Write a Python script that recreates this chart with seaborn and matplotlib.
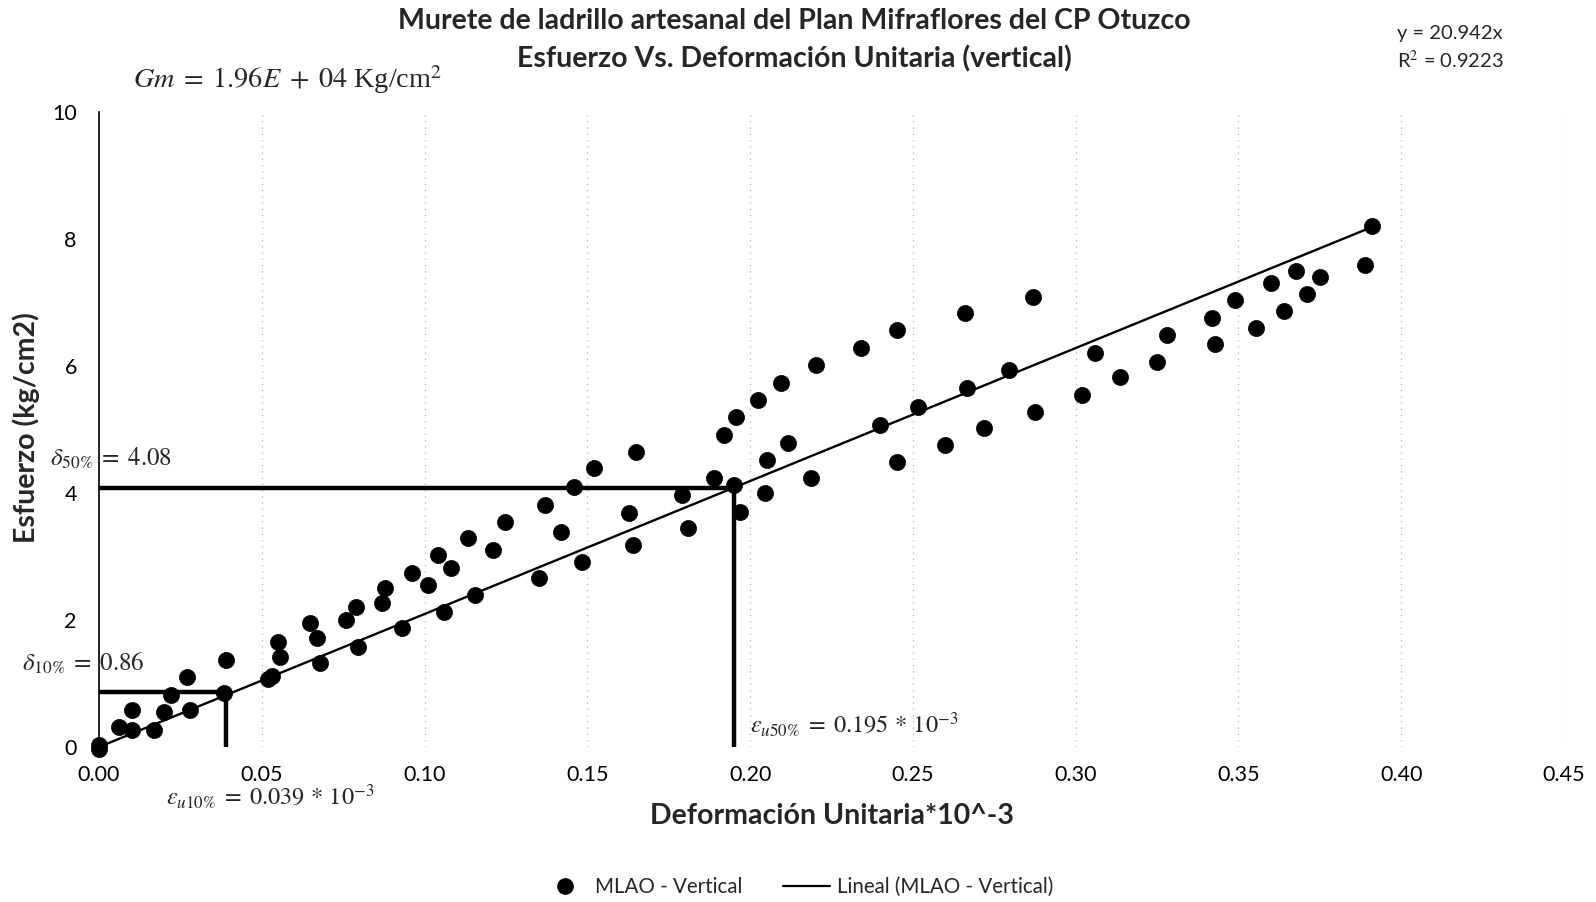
import numpy as np
import pandas as pd
import matplotlib
matplotlib.use("Agg")
import matplotlib.pyplot as plt
import seaborn as sns
from matplotlib.lines import Line2D

# ---- data ----
deformacion = [0.000, 0.000, 0.0062, 0.0102, 0.0102, 0.017, 0.020, 0.022, 0.027, 0.028,
               0.0385, 0.039, 0.052, 0.053, 0.055, 0.0555, 0.0647, 0.0669, 0.0678, 0.076,
               0.079, 0.0795, 0.087, 0.088, 0.093, 0.096, 0.101, 0.104, 0.106, 0.108,
               0.1134, 0.1156, 0.121, 0.1248, 0.135, 0.137, 0.1418, 0.1458, 0.1485, 0.152,
               0.1627, 0.164, 0.165, 0.179, 0.181, 0.189, 0.192, 0.195, 0.1957, 0.197,
               0.2025, 0.2046, 0.2052, 0.2095, 0.2117, 0.2188, 0.2203, 0.234, 0.2398, 0.245,
               0.245, 0.2515, 0.260, 0.266, 0.2666, 0.2718, 0.2795, 0.2875, 0.287, 0.302,
               0.306, 0.3137, 0.325, 0.328, 0.342, 0.3427, 0.349, 0.3553, 0.360, 0.364,
               0.3677, 0.371, 0.375, 0.389, 0.391]
esfuerzo = [-0.03, 0.03, 0.31, 0.27, 0.58, 0.27, 0.55, 0.82, 1.10, 0.58,
            0.85, 1.37, 1.07, 1.12, 1.65, 1.42, 1.95, 1.72, 1.32, 2.00,
            2.20, 1.57, 2.27, 2.50, 1.87, 2.74, 2.55, 3.02, 2.13, 2.82,
            3.29, 2.39, 3.10, 3.54, 2.66, 3.81, 3.39, 4.09, 2.91, 4.39,
            3.68, 3.18, 4.65, 3.97, 3.45, 4.24, 4.91, 4.13, 5.20, 3.70,
            5.46, 4.00, 4.52, 5.73, 4.79, 4.24, 6.02, 6.28, 5.07, 6.57,
            4.49, 5.35, 4.76, 6.83, 5.65, 5.02, 5.94, 5.28, 7.09, 5.54,
            6.20, 5.83, 6.06, 6.49, 6.76, 6.35, 7.04, 6.60, 7.31, 6.87,
            7.50, 7.13, 7.40, 7.59, 8.20]
pendiente = 20.942
r2 = 0.9223
x_ticks = [0.00, 0.05, 0.10, 0.15, 0.20, 0.25, 0.30, 0.35, 0.40, 0.45]
y_ticks = [0, 2, 4, 6, 8, 10]
delta50, eps50 = 4.08, 0.195
delta10, eps10 = 0.86, 0.039

df = pd.DataFrame({"x": deformacion, "y": esfuerzo})
trend = pd.DataFrame({"x": [0.0, max(deformacion)]})
trend["y"] = pendiente * trend["x"]

sns.set_theme(style="white")
plt.rcParams["font.family"] = ["Lato", "DejaVu Sans"]
plt.rcParams["mathtext.fontset"] = "stix"

W, H = 1596, 902
fig = plt.figure(figsize=(W / 100, H / 100), dpi=100)
L, R, B, T = 99, 1564, 747, 112
ax = fig.add_axes([L / W, 1 - B / H, (R - L) / W, (B - T) / H])

def fx(px):
    return px / W

def fy(py):
    return 1 - py / H

# gridlines
for xv in x_ticks[1:]:
    ax.axvline(xv, color="#b5b5b5", lw=0.9, ls=(0, (1, 4)), zorder=0)

# reference lines
ax.plot([0, eps50], [delta50, delta50], color="black", lw=3.2, solid_capstyle="butt", zorder=2)
ax.plot([eps50, eps50], [0, delta50], color="black", lw=3.2, solid_capstyle="butt", zorder=2)
ax.plot([0, eps10], [delta10, delta10], color="black", lw=3.2, solid_capstyle="butt", zorder=2)
ax.plot([eps10, eps10], [0, delta10], color="black", lw=3.2, solid_capstyle="butt", zorder=2)

sns.lineplot(data=trend, x="x", y="y", ax=ax, color="black", lw=1.7, zorder=3, legend=False)
sns.scatterplot(data=df, x="x", y="y", ax=ax, color="black", s=135, edgecolor="black",
                linewidth=0.5, zorder=4, clip_on=False, legend=False)

ax.set_xlim(0, 0.45)
ax.set_ylim(0, 10)
ax.set_xticks(x_ticks)
ax.set_xticklabels([f"{v:.2f}" for v in x_ticks])
ax.set_yticks(y_ticks)
ax.set_yticklabels([str(v) for v in y_ticks])
ax.tick_params(axis="both", length=0, labelsize=15.5, colors="black")
ax.tick_params(axis="x", pad=13)
ax.tick_params(axis="y", pad=16)
for s in ["top", "right", "bottom"]:
    ax.spines[s].set_visible(False)
ax.spines["left"].set_color("black")
ax.spines["left"].set_linewidth(1.2)

ax.set_xlabel("Deformación Unitaria*10^-3", fontsize=20.5, fontweight="bold")
ax.set_ylabel("Esfuerzo (kg/cm2)", fontsize=20.5, fontweight="bold")
ax.xaxis.set_label_coords((832 - L) / (R - L), (B - 803) / (B - T))
ax.yaxis.set_label_coords((40 - L) / (R - L), (B - 428) / (B - T))

fig.text(fx(794), fy(21), "Murete de ladrillo artesanal del Plan Mifraflores del CP Otuzco",
         ha="center", va="center", fontsize=20.5, fontweight="bold")
fig.text(fx(794), fy(59), "Esfuerzo Vs. Deformación Unitaria (vertical)",
         ha="center", va="center", fontsize=20.5, fontweight="bold")

fig.text(fx(1397), fy(33), f"y = {pendiente}x", ha="left", va="center", fontsize=14.5)
fig.text(fx(1397), fy(60), f"R$^2$ = {r2}", ha="left", va="center", fontsize=14.5)

fig.text(fx(133), fy(80), r"$Gm\;=\;1.96E\;+\;04$ Kg/cm$^2$", ha="left", va="center",
         fontsize=20.3, family=["Liberation Serif", "DejaVu Serif"])
fig.text(fx(50), fy(458), r"$\delta_{50\%}\;=\;4.08$", ha="left", va="center", fontsize=18)
fig.text(fx(22), fy(663), r"$\delta_{10\%}\;=\;0.86$", ha="left", va="center", fontsize=18)
fig.text(fx(750), fy(725), r"$\varepsilon_{u50\%}\;=\;0.195\,*\,10^{-3}$", ha="left",
         va="center", fontsize=17.5)
fig.text(fx(166), fy(797), r"$\varepsilon_{u10\%}\;=\;0.039\,*\,10^{-3}$", ha="left",
         va="center", fontsize=17.5)

handles = [Line2D([0], [0], marker="o", color="none", markerfacecolor="black",
                  markeredgecolor="black", markersize=11),
           Line2D([0], [0], color="black", lw=1.6)]
fig.legend(handles, ["MLAO - Vertical", "Lineal (MLAO - Vertical)"], loc="center",
           bbox_to_anchor=(fx(797), fy(887)), ncol=2, frameon=False, fontsize=14.8,
           handlelength=2.3, columnspacing=2.0, handletextpad=0.3)

fig.savefig("out.png", dpi=100)
